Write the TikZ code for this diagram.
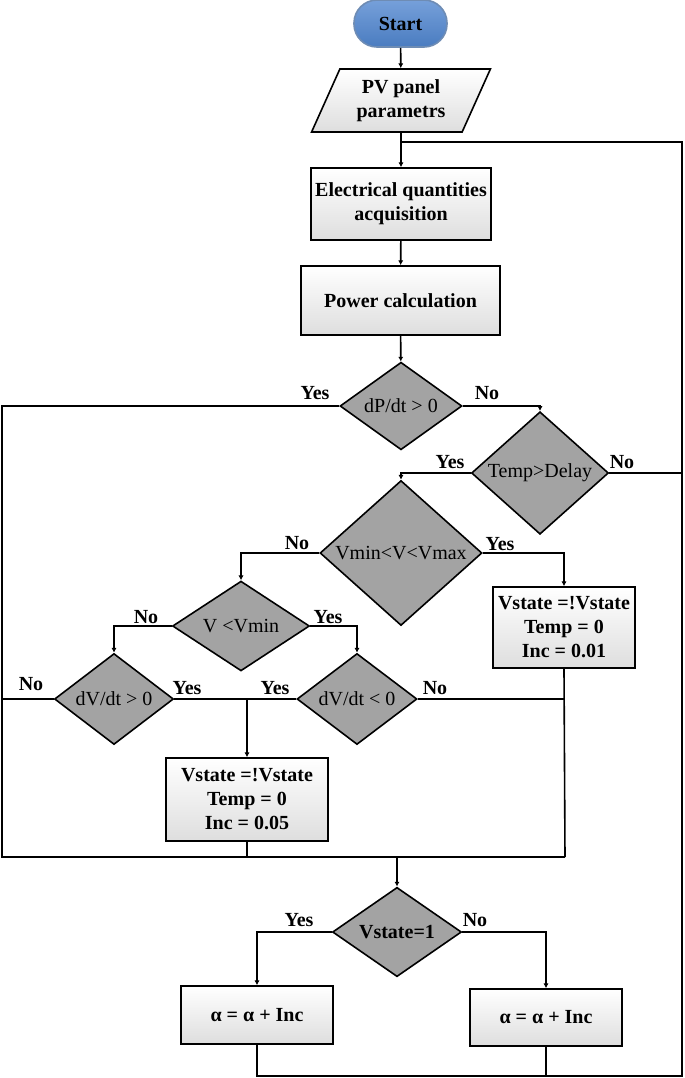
\documentclass[tikz,border=0pt]{standalone}
\usepackage{fontspec}
\setmainfont{Liberation Serif}
\usetikzlibrary{shapes.geometric,arrows.meta}

\definecolor{startTop}{RGB}{118,160,218}
\definecolor{startBot}{RGB}{74,124,192}
\definecolor{startLine}{RGB}{110,140,180}
\definecolor{decGray}{RGB}{163,163,163}

\begin{document}
\begin{tikzpicture}[x=0.5pt,y=-0.5pt,line width=0.8pt,
  flow/.style={-{Latex[length=2.4pt,width=2.6pt]}},
  startnode/.style={rectangle,rounded corners=11.5pt,draw=startLine,top color=startTop,bottom color=startBot,font=\bfseries,minimum width=46.5pt,minimum height=23.5pt},
  inbox/.style={trapezium,trapezium left angle=64,trapezium right angle=116,trapezium stretches=true,draw,top color=white,bottom color=black!13,font=\bfseries,align=center,inner sep=0pt},
  procbox/.style={rectangle,draw,top color=white,bottom color=black!13,font=\bfseries,align=center,inner sep=0pt},
  decision/.style={diamond,draw,fill=decGray,inner sep=0pt},
  answer/.style={font=\bfseries,inner sep=0pt}]

\useasboundingbox (0,0) rectangle (685,1078);

% Top

\node[startnode] (start) at (400.5,23.5) {Start};
\node[inbox,minimum width=90pt,minimum height=31.5pt] (param) at (401,100.5) {PV panel\\parametrs};
\node[procbox,minimum width=90pt,minimum height=36pt] (acq) at (401,204) {Electrical quantities\\acquisition};
\node[procbox,minimum width=99.5pt,minimum height=34.5pt] (power) at (400.5,300.5) {Power calculation};
\coordinate (j1) at (401,142);
\draw[flow] (start) -- (param);
\draw[flow] (param.south) -- (acq.north);
\draw[flow] (acq) -- (power);

% Decisions

\node[decision,minimum width=61pt,minimum height=37.5pt] (dP) at (401,406) {dP/dt > 0};
\node[decision,minimum width=68.5pt,minimum height=44pt] (tmp) at (540,473) {Temp>Delay};
\node[decision,minimum width=81pt,minimum height=46pt] (vrange) at (401,553) {Vmin<V<Vmax};
\node[decision,minimum width=68.5pt,minimum height=42.5pt] (vlow) at (241,626) {V <Vmin};
\node[decision,minimum width=59.5pt,minimum height=37.5pt] (dVpos) at (114,699) {dV/dt > 0};
\node[decision,minimum width=60pt,minimum height=37.5pt] (dVneg) at (357,699) {dV/dt < 0};
\draw[flow] (power) -- (dP);
\draw[flow] (dP.east) -| (tmp.north);
\draw[flow] (tmp.west) -| (vrange.north);
\draw[flow] (vrange.west) -| (vlow.north);
\draw[flow] (vlow.west) -| (dVpos.north);
\draw[flow] (vlow.east) -| (dVneg.north);

\node[answer] (yes1) at (315,393) {Yes};
\node[answer] (no1) at (487,393) {No};
\node[answer] (yes2) at (450,462) {Yes};
\node[answer] (no2) at (622,462) {No};
\node[answer] (no3) at (297,543) {No};
\node[answer] (yes3) at (500,544) {Yes};
\node[answer] (no4) at (146,617) {No};
\node[answer] (yes4) at (328,617) {Yes};
\node[answer] (no5) at (31,684) {No};
\node[answer] (yes5) at (187,688) {Yes};
\node[answer] (yes6) at (275,688) {Yes};
\node[answer] (no6) at (435,688) {No};

% Updates

\node[procbox,minimum width=71pt,minimum height=40.5pt] (upd1) at (564,627.5) {Vstate =!Vstate\\Temp = 0\\Inc = 0.01};
\node[procbox,minimum width=81pt,minimum height=41.5pt] (upd2) at (247,799.5) {Vstate =!Vstate\\Temp = 0\\Inc = 0.05};
\coordinate (j3) at (247,699);
\draw[flow] (vrange.east) -| (upd1.north);
\draw (dVpos.east) -- (dVneg.west);
\draw[flow] (j3) -- (upd2.north);

% Merge

\coordinate (ltop) at (2,406);
\coordinate (lbot) at (2,857);
\coordinate (rbot) at (565,857);
\coordinate (mid) at (397,857);
\draw (dP.west) -- (ltop) -- (lbot) -- (rbot);
\draw (dVpos.west) -- (dVpos.west -| lbot);
\draw (dVneg.east) -- (dVneg.east -| rbot);
\draw (upd1.south) -- (rbot);
\draw (upd2.south) -- (upd2.south |- lbot);

% Bottom

\node[decision,minimum width=64.5pt,minimum height=39.5pt,font=\bfseries] (vst) at (397,932) {Vstate=1};
\node[procbox,minimum width=76pt,minimum height=29pt] (incA) at (257,1015) {α = α + Inc};
\node[procbox,minimum width=76pt,minimum height=28.5pt] (incB) at (546,1017.5) {α = α + Inc};
\node[answer] (yes7) at (299,920) {Yes};
\node[answer] (no7) at (475,920) {No};
\draw[flow] (mid) -- (vst.north);
\draw[flow] (vst.west) -| (incA.north);
\draw[flow] (vst.east) -| (incB.north);

% Loop back

\coordinate (rtop) at (682,142);
\coordinate (rlow) at (682,1076);
\draw (incA.south) -- (incA.south |- rlow) -- (rlow) -- (rtop) -- (j1);
\draw (incB.south) -- (incB.south |- rlow);
\draw (tmp.east) -- (tmp.east -| rtop);

\end{tikzpicture}
\end{document}
